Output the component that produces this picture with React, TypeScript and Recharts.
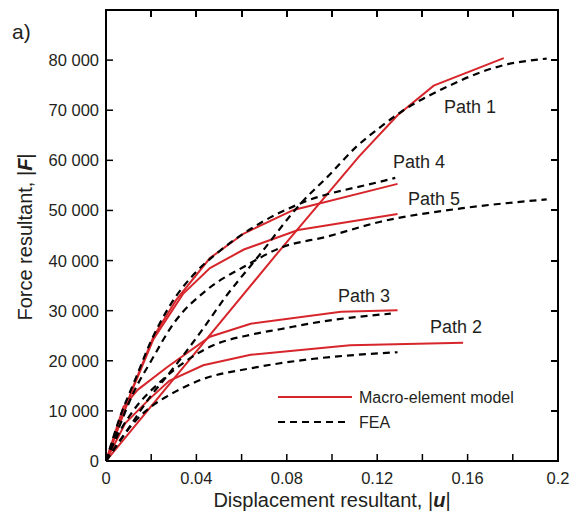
import React from "react";
import { Line, LineChart, XAxis, YAxis } from "recharts";

// displacement |u| and force |F|
const path1ModelU = [0, 0.077, 0.112, 0.129, 0.145, 0.176];
const path1ModelF = [0, 42100, 60800, 69000, 74900, 80400];
const path1FeaU = [0, 0.0095, 0.0195, 0.028, 0.042, 0.053, 0.067, 0.087, 0.098, 0.111, 0.121, 0.131, 0.151, 0.166, 0.176, 0.189, 0.195];
const path1FeaF = [0, 6200, 12800, 17500, 25800, 32800, 40600, 51800, 56700, 62800, 66500, 69800, 74700, 77600, 79000, 80000, 80300];

const path2ModelU = [0, 0.0085, 0.0195, 0.028, 0.043, 0.064, 0.108, 0.158];
const path2ModelF = [0, 7500, 12500, 16000, 19100, 21200, 23100, 23600];
const path2FeaU = [0, 0.006, 0.013, 0.021, 0.027, 0.042, 0.064, 0.077, 0.092, 0.129];
const path2FeaF = [0, 4000, 8000, 11200, 12900, 16200, 18500, 19500, 20400, 21700];

const path3ModelU = [0, 0.0077, 0.014, 0.027, 0.046, 0.064, 0.104, 0.129];
const path3ModelF = [0, 10800, 14200, 18700, 24800, 27400, 29800, 30100];
const path3FeaU = [0, 0.005, 0.012, 0.024, 0.034, 0.046, 0.064, 0.077, 0.095, 0.126];
const path3FeaF = [0, 5000, 10000, 15800, 19500, 22800, 25200, 26300, 27800, 29400];

const path4ModelU = [0, 0.012, 0.021, 0.031, 0.046, 0.061, 0.083, 0.129];
const path4ModelF = [0, 14800, 24800, 32100, 40500, 45400, 50100, 55300];
const path4FeaU = [0, 0.006, 0.0136, 0.0195, 0.028, 0.04, 0.05, 0.068, 0.086, 0.121, 0.128];
const path4FeaF = [0, 8500, 17000, 23500, 30800, 37800, 41800, 47400, 51400, 55700, 56500];

const path5ModelU = [0, 0.012, 0.021, 0.034, 0.046, 0.061, 0.085, 0.129];
const path5ModelF = [0, 14600, 24300, 33300, 38500, 42200, 46100, 49300];
const path5FeaU = [0, 0.006, 0.012, 0.02, 0.03, 0.0445, 0.062, 0.077, 0.098, 0.121, 0.157, 0.195];
const path5FeaF = [0, 7000, 13500, 20000, 27500, 34100, 39000, 42500, 44800, 47700, 50400, 52200];

const xTicks = [0, 0.02, 0.04, 0.06, 0.08, 0.1, 0.12, 0.14, 0.16, 0.18, 0.2];
const yTicks = [0, 10000, 20000, 30000, 40000, 50000, 60000, 70000, 80000];
const X_MAX = 0.2;
const Y_MAX = 90000;

const pathLabels = [
  { text: "Path 1", x: 444, y: 113 },
  { text: "Path 4", x: 393, y: 168 },
  { text: "Path 5", x: 408, y: 205 },
  { text: "Path 3", x: 338, y: 302 },
  { text: "Path 2", x: 430, y: 333 }
];

const W = 577;
const H = 513;
const Y_AXIS_W = 106;
const X_AXIS_H = 52;
const MARGIN = { top: 10, right: 19, bottom: 0, left: 0 };
// plot frame, same geometry the chart uses
const PLOT_LEFT = MARGIN.left + Y_AXIS_W;
const PLOT_TOP = MARGIN.top;
const PLOT_RIGHT = W - MARGIN.right;
const PLOT_BOTTOM = H - MARGIN.bottom - X_AXIS_H;

const RED = "#d7262b";
const INK = "#231f20";
const FONT = "'Liberation Sans', Arial, sans-serif";
const TICK = 7;

const zip = (u: number[], f: number[]) => u.map((x, i) => ({ x, y: f[i] }));

const series = [
  { key: "m1", data: zip(path1ModelU, path1ModelF), fea: false },
  { key: "m2", data: zip(path2ModelU, path2ModelF), fea: false },
  { key: "m3", data: zip(path3ModelU, path3ModelF), fea: false },
  { key: "m4", data: zip(path4ModelU, path4ModelF), fea: false },
  { key: "m5", data: zip(path5ModelU, path5ModelF), fea: false },
  { key: "f1", data: zip(path1FeaU, path1FeaF), fea: true },
  { key: "f2", data: zip(path2FeaU, path2FeaF), fea: true },
  { key: "f3", data: zip(path3FeaU, path3FeaF), fea: true },
  { key: "f4", data: zip(path4FeaU, path4FeaF), fea: true },
  { key: "f5", data: zip(path5FeaU, path5FeaF), fea: true }
];

const fmtX = (v: number) => String(+v.toFixed(2));
const fmtY = (v: number) =>
  v === 0 ? "0" : `${Math.floor(v / 1000)} ${String(v % 1000).padStart(3, "0")}`;

const BottomTick = (props: any) => {
  const { x, y, payload, index } = props;
  return (
    <g>
      <line x1={x} x2={x} y1={y} y2={y - TICK} stroke="#000" strokeWidth={1.5} />
      {index % 2 === 0 && (
        <text x={x} y={y + 23} textAnchor="middle" fontSize={16.5} fill={INK} fontFamily={FONT}>
          {fmtX(payload.value)}
        </text>
      )}
    </g>
  );
};

const LeftTick = (props: any) => {
  const { x, y, payload } = props;
  return (
    <g>
      <line x1={x} x2={x + TICK} y1={y} y2={y} stroke="#000" strokeWidth={1.5} />
      <text x={x - 7} y={y + 6} textAnchor="end" fontSize={16.5} fill={INK} fontFamily={FONT}>
        {fmtY(payload.value)}
      </text>
    </g>
  );
};

const frameX = (v: number) => PLOT_LEFT + (v / X_MAX) * (PLOT_RIGHT - PLOT_LEFT);
const frameY = (v: number) => PLOT_BOTTOM - (v / Y_MAX) * (PLOT_BOTTOM - PLOT_TOP);

const bar = (left: number, top: number, width: number, height: number, key: string) => (
  <div
    key={key}
    style={{ position: "absolute", left, top, width, height, background: "#000", zIndex: 5 }}
  />
);

const App: React.FC = () => {
  return (
    <div style={{ position: "absolute", left: 0, top: 0, width: W, height: H, background: "#fff" }}>
      <LineChart width={W} height={H} margin={MARGIN}>
        <XAxis
          type="number"
          dataKey="x"
          domain={[0, X_MAX]}
          ticks={xTicks}
          height={X_AXIS_H}
          tickSize={0}
          tickMargin={0}
          tick={<BottomTick />}
          interval={0}
          axisLine={{ stroke: "#000", strokeWidth: 2 }}
          allowDataOverflow
        />
        <YAxis
          type="number"
          domain={[0, Y_MAX]}
          ticks={yTicks}
          width={Y_AXIS_W}
          tickSize={0}
          tickMargin={0}
          tick={<LeftTick />}
          interval={0}
          axisLine={{ stroke: "#000", strokeWidth: 2 }}
          allowDataOverflow
        />
        {series.map((s) => (
          <Line
            key={s.key}
            data={s.data}
            dataKey="y"
            type={s.fea ? "monotone" : "linear"}
            stroke={s.fea ? "#000" : RED}
            strokeWidth={s.fea ? 2.2 : 2}
            strokeDasharray={s.fea ? "7 5" : undefined}
            dot={false}
            activeDot={false}
            isAnimationActive={false}
          />
        ))}
      </LineChart>
      {/* top and right edges of the box with inward mirrored ticks */}
      {bar(PLOT_LEFT - 1, PLOT_TOP - 1, PLOT_RIGHT - PLOT_LEFT + 2, 2, "top")}
      {bar(PLOT_RIGHT - 1, PLOT_TOP - 1, 2, PLOT_BOTTOM - PLOT_TOP + 2, "right")}
      {xTicks.slice(1, -1).map((t) =>
        bar(Math.round(frameX(t)) - 1, PLOT_TOP, 2, TICK, `tx${t}`)
      )}
      {yTicks.slice(1).map((t) =>
        bar(PLOT_RIGHT - TICK, Math.round(frameY(t)) - 1, TICK, 2, `ty${t}`)
      )}
      <svg
        width={W}
        height={H}
        style={{ position: "absolute", left: 0, top: 0, pointerEvents: "none" }}
      >
        <text x={12} y={39} fontSize={21} fill={INK} fontFamily={FONT}>
          a)
        </text>
        {pathLabels.map((p) => (
          <text key={p.text} x={p.x} y={p.y} fontSize={18} fill={INK} fontFamily={FONT}>
            {p.text}
          </text>
        ))}
        <g>
          <line x1={278} x2={352} y1={397} y2={397} stroke={RED} strokeWidth={2} />
          <text x={359} y={403} fontSize={16} fill={INK} fontFamily={FONT}>
            Macro-element model
          </text>
          <line x1={278} x2={348} y1={422} y2={422} stroke="#000" strokeWidth={2.2} strokeDasharray="7 5" />
          <text x={359} y={428} fontSize={16} fill={INK} fontFamily={FONT}>
            FEA
          </text>
        </g>
        <text x={332} y={507} textAnchor="middle" fontSize={20} fill={INK} fontFamily={FONT}>
          Displacement resultant, |<tspan fontWeight="bold" fontStyle="italic">u</tspan>|
        </text>
        <text
          transform="translate(32 237) rotate(-90)"
          textAnchor="middle"
          fontSize={20}
          fill={INK}
          fontFamily={FONT}
        >
          Force resultant, |<tspan fontWeight="bold" fontStyle="italic">F</tspan>|
        </text>
      </svg>
    </div>
  );
};

export default App;
